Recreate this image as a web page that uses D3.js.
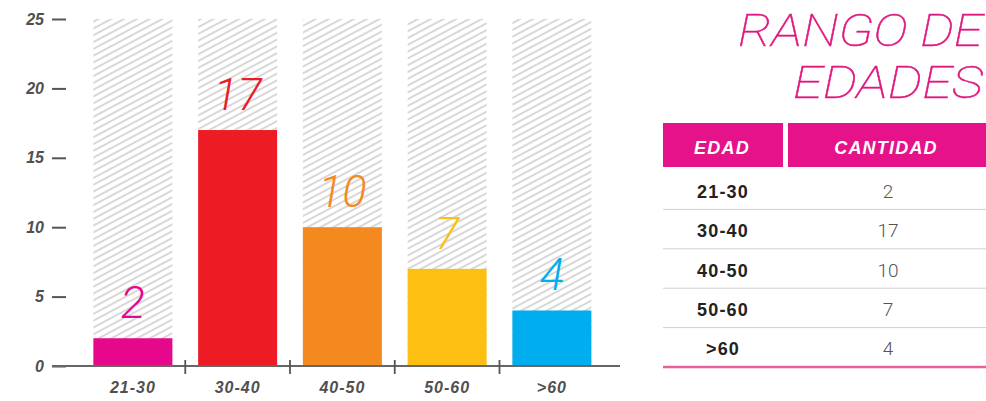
<!DOCTYPE html>
<html><head><meta charset="utf-8">
<script src="https://cdn.jsdelivr.net/npm/d3@7"></script>
<style>
html,body{margin:0;padding:0;background:#fff;}
svg{display:block;}
</style></head>
<body><svg id="c" width="986" height="401"></svg>
<script>
const categories = ["21-30","30-40","40-50","50-60",">60"];
const values = [2,17,10,7,4];
const colors = ["#e6078b","#ed1c24","#f4891f","#fdc012","#00aeef"];
const yTicks = [0,5,10,15,20,25];
const titleLines = ["RANGO DE","EDADES"];
const tableHeaders = ["EDAD","CANTIDAD"];

const svg = d3.select("#c");
const defs = svg.append("defs");
const pat = defs.append("pattern").attr("id","hatch").attr("patternUnits","userSpaceOnUse")
  .attr("width",6).attr("height",6).attr("patternTransform","rotate(-28)");
pat.append("line").attr("x1",0).attr("y1",3).attr("x2",6).attr("y2",3)
  .attr("stroke","#d4d4d4").attr("stroke-width",1.8);

const y = d3.scaleLinear().domain([0,25]).range([366,19]);
const x = d3.scaleBand().domain(categories).range([80.5,604.25]).paddingInner(0.246).paddingOuter(0.123);

// hatched backgrounds
svg.append("g").selectAll("rect").data(categories).join("rect")
  .attr("x",d=>x(d)).attr("width",x.bandwidth())
  .attr("y",y(25)).attr("height",y(0)-y(25)).attr("fill","url(#hatch)");

// bars
svg.append("g").selectAll("rect").data(values).join("rect")
  .attr("x",(d,i)=>x(categories[i])).attr("width",x.bandwidth())
  .attr("y",d=>y(d)).attr("height",d=>y(0)-y(d)).attr("fill",(d,i)=>colors[i]);

// value labels
svg.append("g").selectAll("text").data(values).join("text")
  .attr("x",(d,i)=>x(categories[i])+x.bandwidth()/2)
  .attr("y",d=>y(d)-20)
  .attr("text-anchor","middle")
  .attr("font-family","Roboto").attr("font-weight",300).attr("font-style","italic")
  .attr("font-size",45).attr("fill",(d,i)=>colors[i])
  .text(d=>d);

// y axis
const yAxis = svg.append("g").attr("transform","translate(66,0)")
  .call(d3.axisLeft(y).tickValues(yTicks).tickSize(14).tickPadding(8));
yAxis.select(".domain").remove();
yAxis.selectAll(".tick line").attr("stroke","#555").attr("stroke-width",2);
yAxis.selectAll(".tick text").attr("font-family","Liberation Sans").attr("font-weight","bold")
  .attr("font-style","italic").attr("font-size",16).attr("fill","#505050");

// x axis
const xAxis = svg.append("g").attr("transform",`translate(0,${y(0)})`)
  .call(d3.axisBottom(x).tickSize(0).tickPadding(16));
xAxis.select(".domain").remove();
xAxis.selectAll(".tick text").attr("font-family","Liberation Sans").attr("font-weight","bold")
  .attr("font-style","italic").attr("font-size",16).attr("letter-spacing",1).attr("fill","#505050");
svg.append("line").attr("x1",52).attr("x2",620).attr("y1",y(0)).attr("y2",y(0))
  .attr("stroke","#666").attr("stroke-width",2);
const gap = x.step()*x.paddingInner()/2;
svg.append("g").selectAll("line").data(categories.slice(1)).join("line")
  .attr("x1",d=>x(d)-gap).attr("x2",d=>x(d)-gap)
  .attr("y1",y(0)-6).attr("y2",y(0)+8).attr("stroke","#555").attr("stroke-width",1.8);

// title (one text, two lines)
const title = svg.append("text").attr("text-anchor","end")
  .attr("font-family","Roboto").attr("font-weight",100).attr("font-style","italic")
  .attr("font-size",44).attr("fill","#e0177f")
  .attr("stroke","#e0177f").attr("stroke-width",0.5);
title.selectAll("tspan").data(titleLines).join("tspan")
  .attr("x",983).attr("y",(d,i)=>46+i*52)
  .attr("textLength",(d,i)=>i===0?245:190).attr("lengthAdjust","spacingAndGlyphs")
  .text(d=>d);

// table
const colX = [663,788,986];
const tbl = svg.append("g");
tbl.selectAll("rect").data(tableHeaders).join("rect")
  .attr("x",(d,i)=>colX[i]).attr("width",(d,i)=>colX[i+1]-colX[i]-(i===0?5:0))
  .attr("y",123).attr("height",44).attr("fill","#e6128a");
tbl.selectAll("text.h").data(tableHeaders).join("text").attr("class","h")
  .attr("x",(d,i)=>i===0?722:886).attr("y",154).attr("text-anchor","middle")
  .attr("font-family","Liberation Sans").attr("font-weight","bold").attr("font-style","italic")
  .attr("font-size",18).attr("letter-spacing",1.2).attr("fill","#fff").text(d=>d);
const rowY = d3.scaleBand().domain(categories).range([170,367]);
tbl.selectAll("text.c").data(categories).join("text").attr("class","c")
  .attr("x",723).attr("y",d=>rowY(d)+rowY.bandwidth()/2+8).attr("text-anchor","middle")
  .attr("font-family","Liberation Sans").attr("font-weight","bold")
  .attr("font-size",18).attr("letter-spacing",1.2).attr("fill","#222").text(d=>d);
tbl.selectAll("text.v").data(values).join("text").attr("class","v")
  .attr("x",888).attr("y",(d,i)=>rowY(categories[i])+rowY.bandwidth()/2+8).attr("text-anchor","middle")
  .attr("font-family","Roboto").attr("font-weight",300)
  .attr("font-size",19).attr("fill","#555").text(d=>d);
tbl.selectAll("line.s").data(categories.slice(1)).join("line").attr("class","s")
  .attr("x1",663).attr("x2",986).attr("y1",d=>rowY(d)).attr("y2",d=>rowY(d))
  .attr("stroke","#d0d0d0").attr("stroke-width",1);
tbl.append("line").attr("x1",663).attr("x2",986).attr("y1",367).attr("y2",367)
  .attr("stroke","#e8619a").attr("stroke-width",2.5);
</script></body></html>
